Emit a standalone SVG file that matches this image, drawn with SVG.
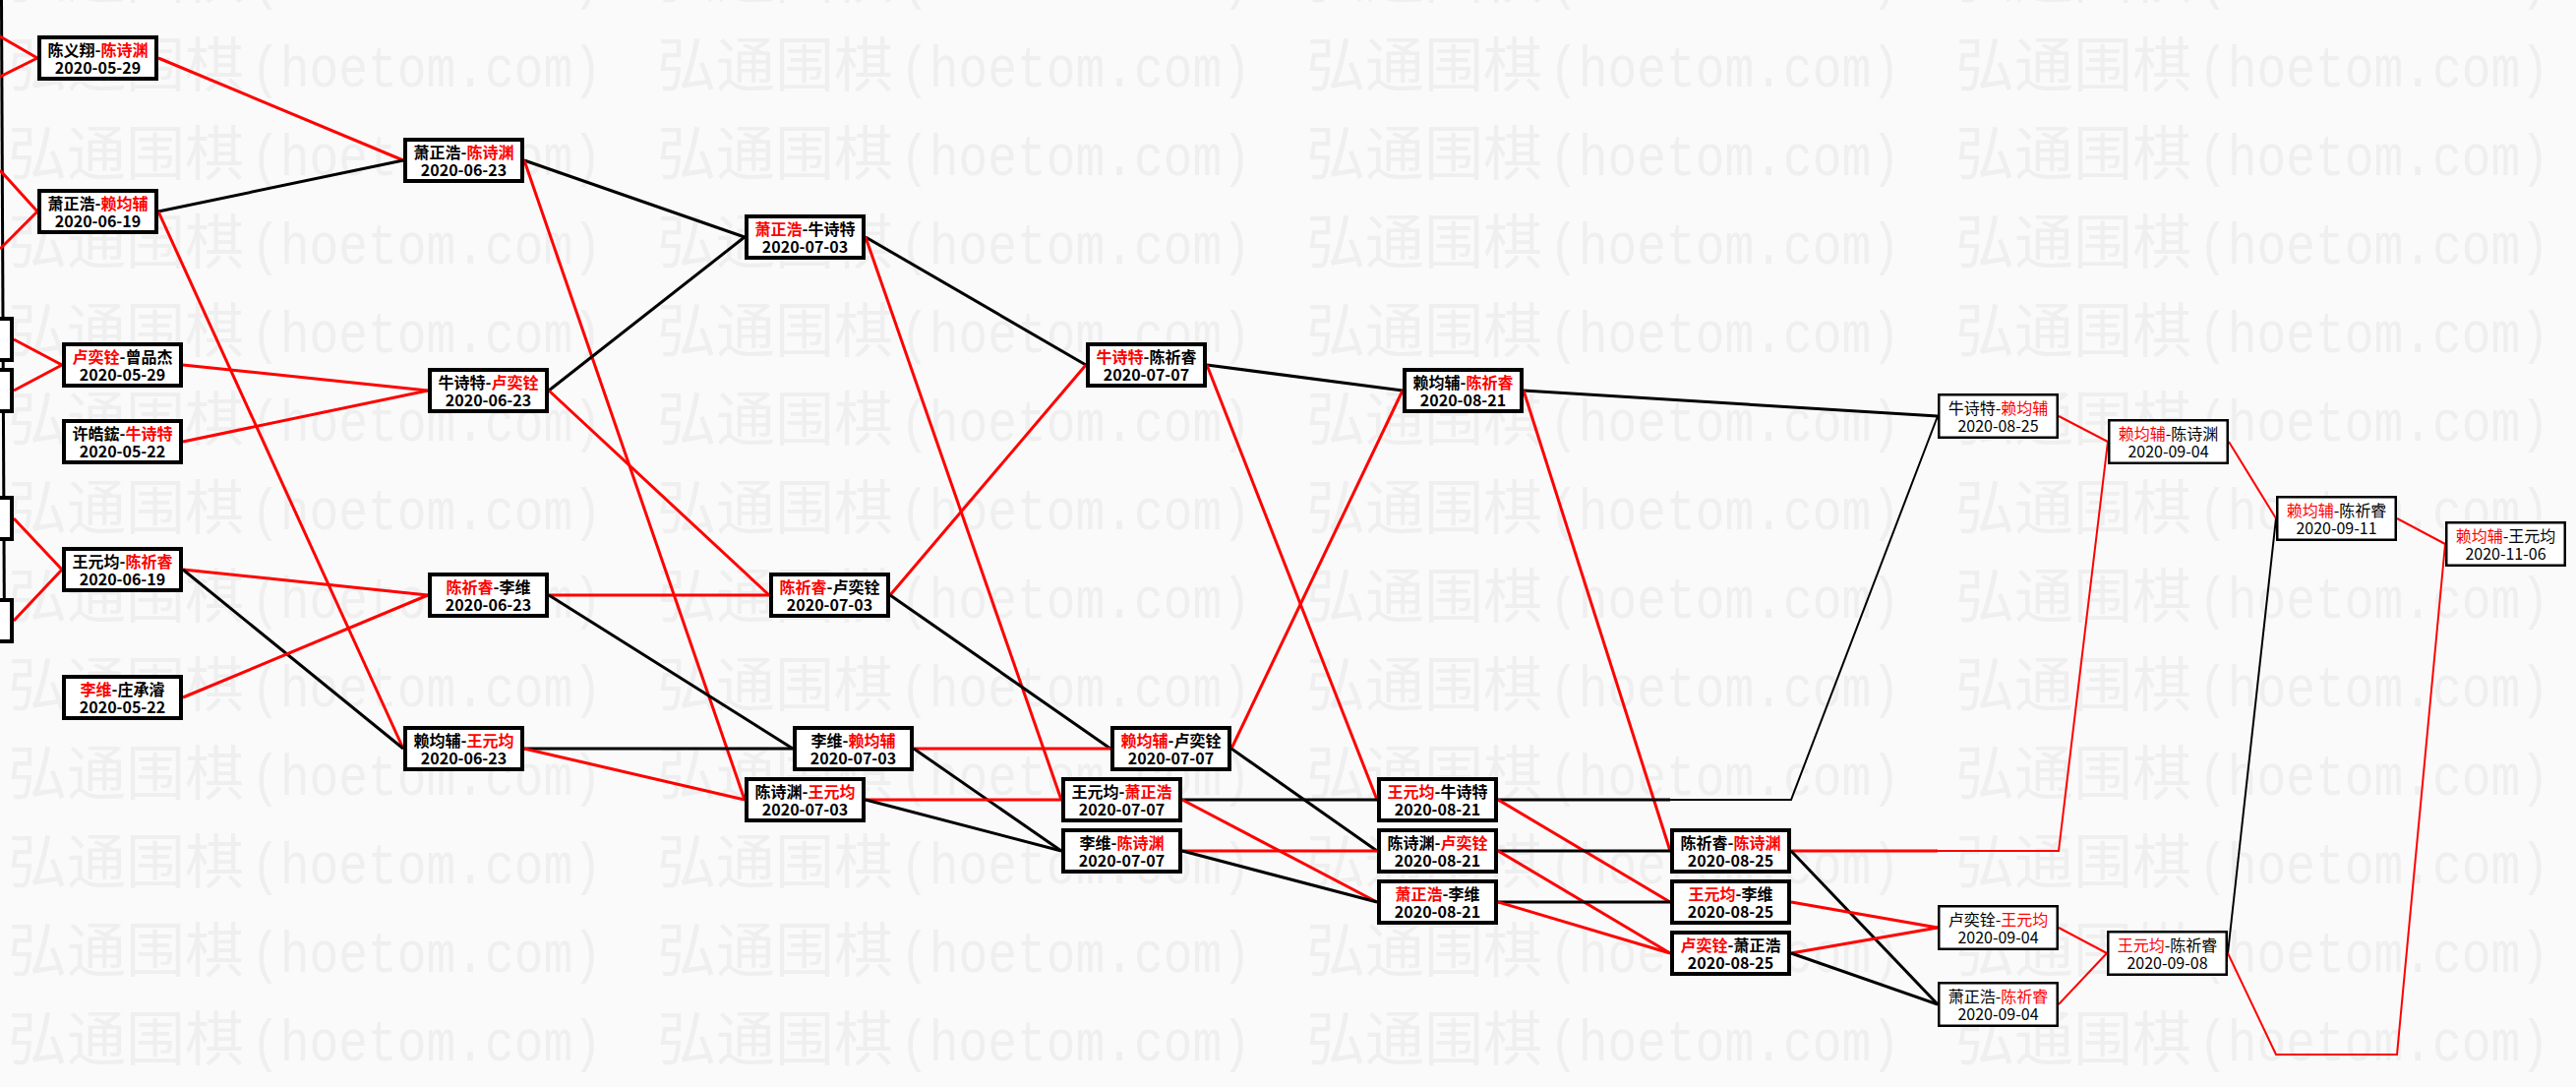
<svg xmlns="http://www.w3.org/2000/svg" width="2619" height="1105" viewBox="0 0 2619 1105">
<defs>
<style>
.nb rect{fill:#fff;stroke:#000;stroke-width:4}
.nt rect{fill:#fff;stroke:#000;stroke-width:2.5}
.nb text,.nt text{font-family:"Noto Sans CJK SC","Noto Sans",sans-serif;font-size:16px;text-anchor:middle;fill:#000}
.nb text{font-weight:bold}
.r{fill:#f00}
#edges line,#edges polyline{fill:none;stroke-linejoin:miter}
.k{stroke:#000}
.d{stroke:#f00}
.w3{stroke-width:3}
.w2{stroke-width:2}
.wm1{font-family:"Noto Sans CJK SC",sans-serif;font-size:60px;fill:#efefef}
.wm2{font-family:"Liberation Mono",monospace;font-size:60px;fill:#efefef}
</style>
<pattern id="wm" patternUnits="userSpaceOnUse" x="8" y="30" width="660" height="90">
<text class="wm1" x="0" y="58">弘通围棋</text>
<text class="wm2" x="247" y="58" textLength="357" lengthAdjust="spacingAndGlyphs">(hoetom.com)</text>
</pattern>
</defs>
<rect width="2619" height="1105" fill="#fafafa"/>
<rect width="2619" height="1105" fill="url(#wm)"/>

<g id="edges">
<line class="k w3" x1="1.5" y1="0" x2="4.5" y2="652"/>
<line class="d w3" x1="0" y1="37" x2="38" y2="59"/>
<line class="d w3" x1="0" y1="78" x2="38" y2="59"/>
<line class="d w3" x1="0" y1="173" x2="38" y2="215"/>
<line class="d w3" x1="0" y1="253" x2="38" y2="215"/>
<line class="d w3" x1="14" y1="345" x2="63" y2="371"/>
<line class="d w3" x1="14" y1="397" x2="63" y2="371"/>
<line class="d w3" x1="14" y1="527" x2="63" y2="579"/>
<line class="d w3" x1="14" y1="631" x2="63" y2="579"/>

<line class="d w3" x1="161" y1="59" x2="410" y2="163"/>
<line class="k w3" x1="161" y1="215" x2="410" y2="163"/>
<line class="d w3" x1="161" y1="215" x2="410" y2="761"/>
<line class="d w3" x1="186" y1="371" x2="435" y2="397"/>
<line class="d w3" x1="186" y1="449" x2="435" y2="397"/>
<line class="d w3" x1="186" y1="579" x2="435" y2="605"/>
<line class="k w3" x1="186" y1="579" x2="410" y2="761"/>
<line class="d w3" x1="186" y1="709" x2="435" y2="605"/>

<line class="k w3" x1="533" y1="163" x2="757" y2="241"/>
<line class="d w3" x1="533" y1="163" x2="757" y2="813"/>
<line class="k w3" x1="558" y1="397" x2="757" y2="241"/>
<line class="d w3" x1="558" y1="397" x2="782" y2="605"/>
<line class="d w3" x1="558" y1="605" x2="782" y2="605"/>
<line class="k w3" x1="558" y1="605" x2="806" y2="761"/>
<line class="k w3" x1="533" y1="761" x2="806" y2="761"/>
<line class="d w3" x1="533" y1="761" x2="757" y2="813"/>

<line class="k w3" x1="880" y1="241" x2="1104" y2="371"/>
<line class="d w3" x1="880" y1="241" x2="1079" y2="813"/>
<line class="d w3" x1="905" y1="605" x2="1104" y2="371"/>
<line class="k w3" x1="905" y1="605" x2="1129" y2="761"/>
<line class="d w3" x1="929" y1="761" x2="1129" y2="761"/>
<line class="k w3" x1="929" y1="761" x2="1079" y2="865"/>
<line class="d w3" x1="880" y1="813" x2="1079" y2="813"/>
<line class="k w3" x1="880" y1="813" x2="1079" y2="865"/>

<line class="k w3" x1="1227" y1="371" x2="1426" y2="397"/>
<line class="d w3" x1="1227" y1="371" x2="1400" y2="813"/>
<line class="d w3" x1="1252" y1="761" x2="1426" y2="397"/>
<line class="k w3" x1="1252" y1="761" x2="1400" y2="865"/>
<line class="k w3" x1="1202" y1="813" x2="1400" y2="813"/>
<line class="d w3" x1="1202" y1="813" x2="1400" y2="917"/>
<line class="d w3" x1="1202" y1="865" x2="1400" y2="865"/>
<line class="k w3" x1="1202" y1="865" x2="1400" y2="917"/>

<line class="k w3" x1="1549" y1="397" x2="1970" y2="423"/>
<line class="d w3" x1="1549" y1="397" x2="1698" y2="865"/>
<line class="k w3" x1="1523" y1="813" x2="1698" y2="813"/>
<polyline class="k w2" points="1698,813 1821,813 1970,423"/>
<line class="d w3" x1="1523" y1="813" x2="1698" y2="917"/>
<line class="k w3" x1="1523" y1="865" x2="1698" y2="865"/>
<line class="d w3" x1="1523" y1="865" x2="1698" y2="969"/>
<line class="k w3" x1="1523" y1="917" x2="1698" y2="917"/>
<line class="d w3" x1="1523" y1="917" x2="1698" y2="969"/>

<line class="d w3" x1="1821" y1="865" x2="1970" y2="865"/>
<polyline class="d w2" points="1970,865 2093,865 2143,449"/>
<line class="k w3" x1="1821" y1="865" x2="1970" y2="1021"/>
<line class="d w3" x1="1821" y1="917" x2="1970" y2="943"/>
<line class="d w3" x1="1821" y1="969" x2="1970" y2="943"/>
<line class="k w3" x1="1821" y1="969" x2="1970" y2="1021"/>

<line class="d w2" x1="2093" y1="423" x2="2143" y2="449"/>
<line class="d w2" x1="2093" y1="943" x2="2142" y2="969"/>
<line class="d w2" x1="2093" y1="1021" x2="2142" y2="969"/>
<line class="k w2" x1="2265" y1="969" x2="2314" y2="527"/>
<polyline class="d w2" points="2265,969 2314,1072 2437,1072 2486,553"/>
<line class="d w2" x1="2266" y1="449" x2="2314" y2="527"/>
<line class="d w2" x1="2437" y1="527" x2="2486" y2="553"/>
</g>

<g id="p1" class="nb"><rect x="-108" y="324" width="120" height="42"/></g>
<g id="p2" class="nb"><rect x="-108" y="376" width="120" height="42"/></g>
<g id="p3" class="nb"><rect x="-108" y="506" width="120" height="42"/></g>
<g id="p4" class="nb"><rect x="-108" y="610" width="120" height="42"/></g>

<g id="nA" class="nb"><rect x="40" y="38" width="119" height="42"/><text x="99.5" y="57">陈义翔-<tspan class="r">陈诗渊</tspan></text><text x="99.5" y="75">2020-05-29</text></g>
<g id="nB" class="nb"><rect x="40" y="194" width="119" height="42"/><text x="99.5" y="213">萧正浩-<tspan class="r">赖均辅</tspan></text><text x="99.5" y="231">2020-06-19</text></g>
<g id="nC" class="nb"><rect x="65" y="350" width="119" height="42"/><text x="124.5" y="369"><tspan class="r">卢奕铨</tspan>-曾品杰</text><text x="124.5" y="387">2020-05-29</text></g>
<g id="nD" class="nb"><rect x="65" y="428" width="119" height="42"/><text x="124.5" y="447">许皓鋐-<tspan class="r">牛诗特</tspan></text><text x="124.5" y="465">2020-05-22</text></g>
<g id="nE" class="nb"><rect x="65" y="558" width="119" height="42"/><text x="124.5" y="577">王元均-<tspan class="r">陈祈睿</tspan></text><text x="124.5" y="595">2020-06-19</text></g>
<g id="nF" class="nb"><rect x="65" y="688" width="119" height="42"/><text x="124.5" y="707"><tspan class="r">李维</tspan>-庄承濬</text><text x="124.5" y="725">2020-05-22</text></g>

<g id="nG" class="nb"><rect x="412" y="142" width="119" height="42"/><text x="471.5" y="161">萧正浩-<tspan class="r">陈诗渊</tspan></text><text x="471.5" y="179">2020-06-23</text></g>
<g id="nH" class="nb"><rect x="437" y="376" width="119" height="42"/><text x="496.5" y="395">牛诗特-<tspan class="r">卢奕铨</tspan></text><text x="496.5" y="413">2020-06-23</text></g>
<g id="nI" class="nb"><rect x="437" y="584" width="119" height="42"/><text x="496.5" y="603"><tspan class="r">陈祈睿</tspan>-李维</text><text x="496.5" y="621">2020-06-23</text></g>
<g id="nJ" class="nb"><rect x="412" y="740" width="119" height="42"/><text x="471.5" y="759">赖均辅-<tspan class="r">王元均</tspan></text><text x="471.5" y="777">2020-06-23</text></g>

<g id="nK" class="nb"><rect x="759" y="220" width="119" height="42"/><text x="818.5" y="239"><tspan class="r">萧正浩</tspan>-牛诗特</text><text x="818.5" y="257">2020-07-03</text></g>
<g id="nL" class="nb"><rect x="784" y="584" width="119" height="42"/><text x="843.5" y="603"><tspan class="r">陈祈睿</tspan>-卢奕铨</text><text x="843.5" y="621">2020-07-03</text></g>
<g id="nM" class="nb"><rect x="808" y="740" width="119" height="42"/><text x="867.5" y="759">李维-<tspan class="r">赖均辅</tspan></text><text x="867.5" y="777">2020-07-03</text></g>
<g id="nN" class="nb"><rect x="759" y="792" width="119" height="42"/><text x="818.5" y="811">陈诗渊-<tspan class="r">王元均</tspan></text><text x="818.5" y="829">2020-07-03</text></g>

<g id="nO" class="nb"><rect x="1106" y="350" width="119" height="42"/><text x="1165.5" y="369"><tspan class="r">牛诗特</tspan>-陈祈睿</text><text x="1165.5" y="387">2020-07-07</text></g>
<g id="nP" class="nb"><rect x="1131" y="740" width="119" height="42"/><text x="1190.5" y="759"><tspan class="r">赖均辅</tspan>-卢奕铨</text><text x="1190.5" y="777">2020-07-07</text></g>
<g id="nQ" class="nb"><rect x="1081" y="792" width="119" height="42"/><text x="1140.5" y="811">王元均-<tspan class="r">萧正浩</tspan></text><text x="1140.5" y="829">2020-07-07</text></g>
<g id="nR" class="nb"><rect x="1081" y="844" width="119" height="42"/><text x="1140.5" y="863">李维-<tspan class="r">陈诗渊</tspan></text><text x="1140.5" y="881">2020-07-07</text></g>

<g id="nS" class="nb"><rect x="1428" y="376" width="119" height="42"/><text x="1487.5" y="395">赖均辅-<tspan class="r">陈祈睿</tspan></text><text x="1487.5" y="413">2020-08-21</text></g>
<g id="nT" class="nb"><rect x="1402" y="792" width="119" height="42"/><text x="1461.5" y="811"><tspan class="r">王元均</tspan>-牛诗特</text><text x="1461.5" y="829">2020-08-21</text></g>
<g id="nU" class="nb"><rect x="1402" y="844" width="119" height="42"/><text x="1461.5" y="863">陈诗渊-<tspan class="r">卢奕铨</tspan></text><text x="1461.5" y="881">2020-08-21</text></g>
<g id="nV" class="nb"><rect x="1402" y="896" width="119" height="42"/><text x="1461.5" y="915"><tspan class="r">萧正浩</tspan>-李维</text><text x="1461.5" y="933">2020-08-21</text></g>

<g id="nX" class="nb"><rect x="1700" y="844" width="119" height="42"/><text x="1759.5" y="863">陈祈睿-<tspan class="r">陈诗渊</tspan></text><text x="1759.5" y="881">2020-08-25</text></g>
<g id="nY" class="nb"><rect x="1700" y="896" width="119" height="42"/><text x="1759.5" y="915"><tspan class="r">王元均</tspan>-李维</text><text x="1759.5" y="933">2020-08-25</text></g>
<g id="nZ" class="nb"><rect x="1700" y="948" width="119" height="42"/><text x="1759.5" y="967"><tspan class="r">卢奕铨</tspan>-萧正浩</text><text x="1759.5" y="985">2020-08-25</text></g>

<g id="nW" class="nt"><rect x="1971.25" y="401.25" width="120.5" height="43.5"/><text x="2031.5" y="421">牛诗特-<tspan class="r">赖均辅</tspan></text><text x="2031.5" y="439">2020-08-25</text></g>
<g id="nAA" class="nt"><rect x="2144.25" y="427.25" width="120.5" height="43.5"/><text x="2204.5" y="447"><tspan class="r">赖均辅</tspan>-陈诗渊</text><text x="2204.5" y="465">2020-09-04</text></g>
<g id="nAB" class="nt"><rect x="1971.25" y="921.25" width="120.5" height="43.5"/><text x="2031.5" y="941">卢奕铨-<tspan class="r">王元均</tspan></text><text x="2031.5" y="959">2020-09-04</text></g>
<g id="nAC" class="nt"><rect x="1971.25" y="999.25" width="120.5" height="43.5"/><text x="2031.5" y="1019">萧正浩-<tspan class="r">陈祈睿</tspan></text><text x="2031.5" y="1037">2020-09-04</text></g>
<g id="nAD" class="nt"><rect x="2143.25" y="947.25" width="120.5" height="43.5"/><text x="2203.5" y="967"><tspan class="r">王元均</tspan>-陈祈睿</text><text x="2203.5" y="985">2020-09-08</text></g>
<g id="nAE" class="nt"><rect x="2315.25" y="505.25" width="120.5" height="43.5"/><text x="2375.5" y="525"><tspan class="r">赖均辅</tspan>-陈祈睿</text><text x="2375.5" y="543">2020-09-11</text></g>
<g id="nAF" class="nt"><rect x="2487.25" y="531.25" width="120.5" height="43.5"/><text x="2547.5" y="551"><tspan class="r">赖均辅</tspan>-王元均</text><text x="2547.5" y="569">2020-11-06</text></g>
</svg>
